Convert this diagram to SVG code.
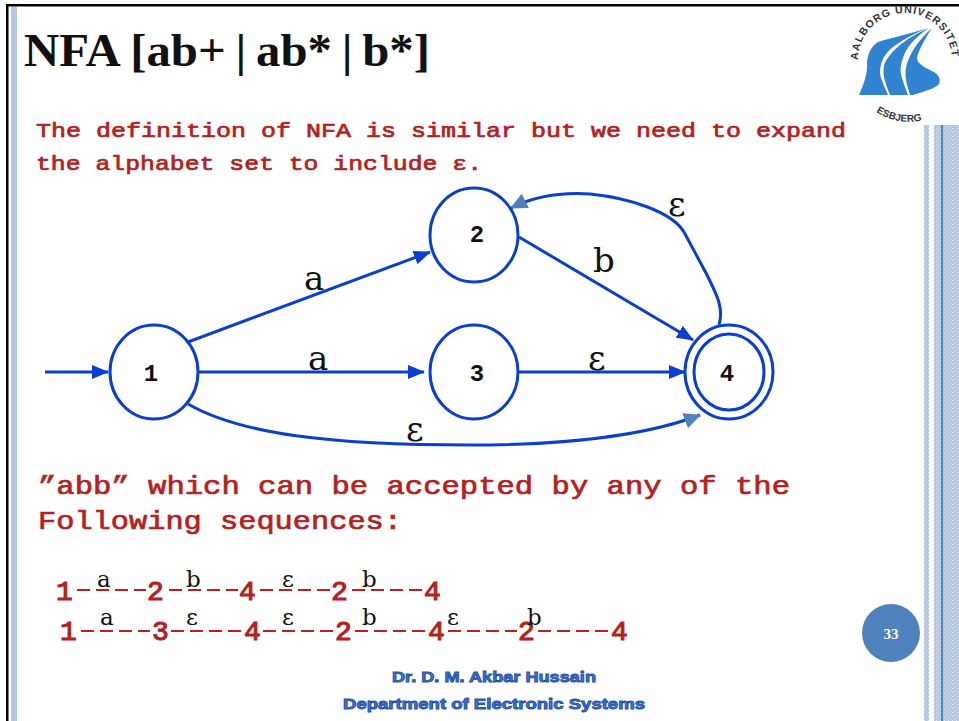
<svg xmlns="http://www.w3.org/2000/svg" width="959" height="721" viewBox="0 0 959 721">
<style>
.edge{fill:none;stroke:#0a3fcf;stroke-width:3}
.node{fill:#fff;stroke:#0a3fcf;stroke-width:3}
.nl{font:bold 24px "Liberation Mono",monospace;fill:#111;text-anchor:middle}
.red{font-family:"Liberation Mono",monospace;fill:#b52020;stroke:#b52020;stroke-width:.7}
.lab{font-family:"DejaVu Serif",serif;fill:#111}
.sm{font-size:23px}
.big{font-size:34px}
.foot{font:bold 15px "Liberation Sans",sans-serif;fill:#3f78d0;stroke:#1f4fa8;stroke-width:.9}
.dash{stroke:#c01e1e;stroke-width:2.2;stroke-dasharray:13 6;fill:none}
</style>
<defs>
<marker id="ah" markerWidth="18" markerHeight="16" refX="16" refY="7" orient="auto" markerUnits="userSpaceOnUse"><path d="M0 0L17 7L0 14Z" fill="#0a3fcf"/></marker>
<marker id="ahl" markerWidth="20" markerHeight="18" refX="16" refY="8" orient="auto" markerUnits="userSpaceOnUse"><path d="M0 0L17 8L0 16Z" fill="#4f81bd"/></marker>
<pattern id="st" width="4" height="4" patternUnits="userSpaceOnUse"><rect width="4" height="4" fill="#b4c6e6"/><rect width="1" height="1" fill="#dfe7f5"/><rect x="2" y="2" width="1" height="1" fill="#dfe7f5"/></pattern>
</defs>
<rect width="959" height="721" fill="#fff"/>
<g id="frame">
<rect x="6" y="4" width="953" height="2.5" fill="#000"/>
<rect x="6" y="4" width="2.5" height="717" fill="#000"/>
<rect x="11" y="7" width="6" height="714" fill="#b4c6e6"/>
<rect x="924" y="125" width="5" height="596" fill="url(#st)"/>
<rect x="934" y="125" width="25" height="596" fill="url(#st)"/>
<rect x="941" y="125" width="2" height="596" fill="#4f81bd"/>
</g>
<text x="24" y="66" textLength="406" lengthAdjust="spacingAndGlyphs" style="font:bold 46px 'Liberation Serif',serif" fill="#111">NFA [ab+&#8201;|&#8201;ab*&#8201;|&#8201;b*]</text>
<g id="logo">
<path d="M859 95C864 84 868 72 867 63C868 52 872 46 878 42C890 38 910 34 927 28C910 36 894 44 886 54C880 62 879 72 881 78C883 84 886 90 888 95Z" fill="#2f83d0"/>
<path d="M890 95C886 84 882 76 884 66C887 54 905 38 929 28C914 38 906 48 903 58C900 66 900 72 902 78C904 84 906 90 908 95Z" fill="#2f83d0"/>
<path d="M910 95C908 88 904 78 906 68C908 56 918 40 932 28C924 40 918 52 917 58C917 64 926 68 934 72C939 75 941 80 939 84C936 88 926 91 913 95Z" fill="#2f83d0"/>
<path id="arcT" d="M858 60A47 47 0 0 1 952 60" fill="none"/>
<path id="arcB" d="M876 112Q905 130 936 115" fill="none"/>
<text font-family="Liberation Sans,sans-serif" font-size="10.5" font-weight="bold" fill="#333"><textPath href="#arcT" textLength="144" lengthAdjust="spacing">AALBORG UNIVERSITET</textPath></text>
<text font-family="Liberation Sans,sans-serif" font-size="10" font-weight="bold" fill="#333"><textPath href="#arcB">ESBJERG</textPath></text>
</g>
<g class="red" font-size="21">
<text x="36" y="137" textLength="810" lengthAdjust="spacingAndGlyphs">The definition of NFA is similar but we need to expand</text>
<text x="36" y="170" textLength="446" lengthAdjust="spacingAndGlyphs">the alphabet set to include ε.</text>
</g>
<g class="red" font-size="26">
<text x="38" y="494" textLength="752" lengthAdjust="spacingAndGlyphs">”abb” which can be accepted by any of the</text>
<text x="38" y="529" textLength="364" lengthAdjust="spacingAndGlyphs">Following sequences:</text>
</g>
<g id="connectors">
<path class="edge" d="M45 372H108" marker-end="url(#ah)"/>
<path class="edge" d="M188 342L430 252" marker-end="url(#ah)"/>
<path class="edge" d="M198 372H424" marker-end="url(#ah)"/>
<path class="edge" d="M518 372H685" marker-end="url(#ah)"/>
<path class="edge" d="M519 237L693 340" marker-end="url(#ah)"/>
<path class="edge" d="M188 404C240 434 330 445 470 445C570 445 645 436 700 415" marker-end="url(#ahl)"/>
<path class="edge" d="M719 325C724 308 717 295 706 273L684 232C672 212 630 198 590 194C560 192 535 196 511 208" marker-end="url(#ahl)"/>
</g>
<g id="n1"><ellipse class="node" cx="154" cy="372" rx="44" ry="47"/><text class="nl" x="151" y="381">1</text></g>
<g id="n2"><ellipse class="node" cx="474" cy="235" rx="44" ry="47"/><text class="nl" x="477" y="242">2</text></g>
<g id="n3"><ellipse class="node" cx="474" cy="372" rx="44" ry="47"/><text class="nl" x="477" y="381">3</text></g>
<g id="n4"><ellipse class="node" cx="729" cy="372" rx="44" ry="47"/><ellipse class="node" cx="729" cy="372" rx="35" ry="38"/><text class="nl" x="727" y="381">4</text></g>
<g class="lab big">
<text x="304" y="290">a</text>
<text x="308" y="370">a</text>
<text x="593" y="272">b</text>
<text x="588" y="370">ε</text>
<text x="668" y="216">ε</text>
<text x="406" y="441">ε</text>
</g>
<g id="seq1" class="red" font-size="28" style="stroke-width:1.1">
<text x="56" y="600">1</text><text x="147" y="600">2</text><text x="239" y="600">4</text><text x="331" y="600">2</text><text x="424" y="600">4</text>
<path class="dash" d="M77 590H146M169 590H238M260 590H330M352 590H423"/>
</g>
<g id="seq2" class="red" font-size="28" style="stroke-width:1.1">
<text x="60" y="640">1</text><text x="152" y="640">3</text><text x="244" y="640">4</text><text x="335" y="640">2</text><text x="428" y="640">4</text><text x="518" y="640">2</text><text x="611" y="640">4</text>
<path class="dash" d="M81 631H150M171 631H243M263 631H334M355 631H427M448 631H517M538 631H610"/>
</g>
<g class="lab sm">
<text x="97" y="587">a</text><text x="186" y="587">b</text><text x="282" y="587">ε</text><text x="362" y="587">b</text>
<text x="100" y="625">a</text><text x="186" y="625">ε</text><text x="282" y="625">ε</text><text x="362" y="625">b</text><text x="447" y="625">ε</text><text x="527" y="625">b</text>
</g>
<g id="page"><circle cx="891" cy="633" r="29" fill="#4f81bd"/><text x="891" y="639" text-anchor="middle" fill="#fff" style="font:bold 15px 'Liberation Serif',serif">33</text></g>
<text class="foot" x="392" y="682" textLength="204" lengthAdjust="spacingAndGlyphs">Dr. D. M. Akbar Hussain</text>
<text class="foot" x="343" y="709" textLength="302" lengthAdjust="spacingAndGlyphs">Department of Electronic Systems</text>
</svg>
